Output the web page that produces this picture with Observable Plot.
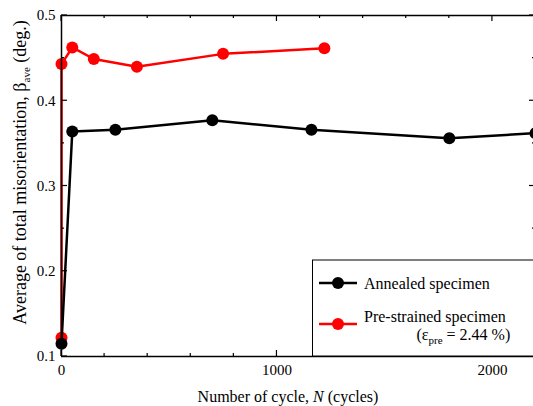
<!DOCTYPE html>
<html><head><meta charset="utf-8">
<script src="https://cdn.jsdelivr.net/npm/d3@7"></script>
<script src="https://cdn.jsdelivr.net/npm/@observablehq/plot@0.6"></script>
<style>body{margin:0;overflow:hidden;background:#fff}</style>
</head><body><div id="chart"></div>
<script>
// Data
const annealedN = [0, 50, 250, 700, 1160, 1800, 2200];
const annealedBeta = [0.115, 0.364, 0.366, 0.377, 0.366, 0.356, 0.362];
const prestrainedN = [0, 0, 50, 150, 350, 750, 1220];
const prestrainedBeta = [0.122, 0.443, 0.4625, 0.449, 0.440, 0.455, 0.4615];
const seriesNames = ["Annealed specimen", "Pre-strained specimen"];
const seriesColors = ["#000000", "#ff0000"];
const xMajorTicks = [0, 1000, 2000];
const xMinorTicks = [200, 400, 600, 800, 1200, 1400, 1600, 1800, 2200];
const yMajorTicks = [0.1, 0.2, 0.3, 0.4, 0.5];
const yMinorTicks = [0.15, 0.25, 0.35, 0.45];
const xDomain = [0, 2200];
const yDomain = [0.1, 0.5];

const annealed = annealedN.map((n, i) => ({n, b: annealedBeta[i]}));
const prestrained = prestrainedN.map((n, i) => ({n, b: prestrainedBeta[i]}));

const FONT = "Liberation Serif";

const plot = Plot.plot({
  width: 533, height: 406,
  marginLeft: 61, marginTop: 15, marginBottom: 50, marginRight: 0,
  x: {domain: xDomain, range: [61, 535]},
  y: {domain: yDomain, range: [356, 15]},
  style: {fontFamily: FONT, fontSize: "15px", color: "black", background: "white"},
  marks: [
    Plot.axisX({ticks: xMajorTicks, tickSize: 0, tickPadding: 8, label: null, tickFormat: d => String(d)}),
    Plot.axisY({ticks: yMajorTicks, tickSize: 0, tickPadding: 6, label: null, tickFormat: d3.format(".1f")}),
    Plot.line(prestrained, {x: "n", y: "b", stroke: seriesColors[1], strokeWidth: 2.5}),
    Plot.dot(prestrained, {x: "n", y: "b", fill: seriesColors[1], r: 6}),
    Plot.line(annealed, {x: "n", y: "b", stroke: seriesColors[0], strokeWidth: 2.5}),
    Plot.dot(annealed, {x: "n", y: "b", fill: seriesColors[0], r: 6}),
    Plot.ruleY(yDomain, {stroke: "black", strokeWidth: 1.5}),
    Plot.ruleX(xDomain, {stroke: "black", strokeWidth: 1.5})
  ]
});

document.getElementById("chart").appendChild(plot);
const svg = d3.select(plot);
svg.selectAll("text").style("font-family", FONT).style("font-size", "15px");
const sx = plot.scale("x"), sy = plot.scale("y");
const x0 = sx.apply(xDomain[0]), x1 = sx.apply(xDomain[1]);
const y0 = sy.apply(yDomain[0]), y1 = sy.apply(yDomain[1]);

const tg = svg.append("g").attr("stroke", "black").attr("stroke-width", 1.2);
function xt(v, len) {
  const x = sx.apply(v);
  tg.append("line").attr("x1", x).attr("x2", x).attr("y1", y0).attr("y2", y0 - len);
  tg.append("line").attr("x1", x).attr("x2", x).attr("y1", y1).attr("y2", y1 + len);
}
function yt(v, len) {
  const y = sy.apply(v);
  tg.append("line").attr("y1", y).attr("y2", y).attr("x1", x0).attr("x2", x0 + len);
  tg.append("line").attr("y1", y).attr("y2", y).attr("x1", x1).attr("x2", x1 - len);
}
xMajorTicks.forEach(v => xt(v, 6));
xMinorTicks.forEach(v => xt(v, 3));
yMajorTicks.forEach(v => yt(v, 6));
yMinorTicks.forEach(v => yt(v, 3));

function txt(sel, size) {
  return sel.append("text").style("font-family", FONT).style("font-size", (size || 16) + "px").attr("fill", "black");
}

// Axis titles
const xt1 = txt(svg).attr("x", 288).attr("y", 402).attr("text-anchor", "middle");
xt1.append("tspan").text("Number of cycle, ");
xt1.append("tspan").style("font-style", "italic").text("N");
xt1.append("tspan").text(" (cycles)");

const yt1 = txt(svg, 18).attr("transform", "translate(26,172.5) rotate(-90)").attr("text-anchor", "middle");
yt1.append("tspan").text("Average of total misorientation, β");
yt1.append("tspan").style("font-size", "11px").attr("dy", 4).text("ave");
yt1.append("tspan").attr("dy", -4).text(" (deg.)");

// Legend
const lg = svg.append("g");
lg.append("rect").attr("x", 312.5).attr("y", 260).attr("width", 240).attr("height", y0 - 260)
  .attr("fill", "white").attr("stroke", "black").attr("stroke-width", 1);
const rows = [283, 324];
seriesNames.forEach((name, i) => {
  const y = rows[i];
  lg.append("line").attr("x1", 319).attr("x2", 357).attr("y1", y).attr("y2", y)
    .attr("stroke", seriesColors[i]).attr("stroke-width", 2.5);
  lg.append("circle").attr("cx", 338).attr("cy", y).attr("r", 6).attr("fill", seriesColors[i]);
});
txt(lg).attr("x", 364).attr("y", 289).attr("text-anchor", "start").text(seriesNames[0]);
txt(lg).attr("x", 364).attr("y", 321.5).attr("text-anchor", "start").text(seriesNames[1]);
const eps = txt(lg).attr("x", 416.5).attr("y", 340).attr("text-anchor", "start");
eps.append("tspan").text("(ε");
eps.append("tspan").style("font-size", "11px").attr("dy", 4).text("pre");
eps.append("tspan").attr("dy", -4).text(" = 2.44 %)");
</script>
</body></html>
